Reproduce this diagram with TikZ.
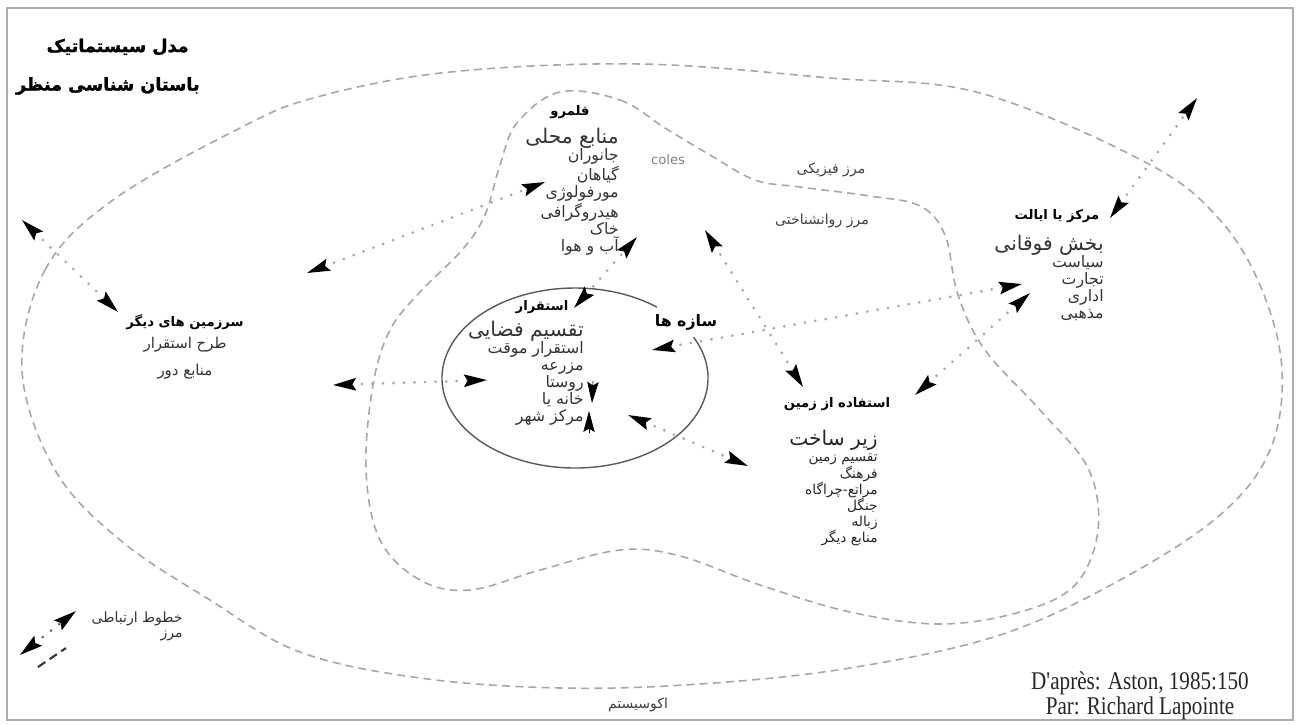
\documentclass[tikz,border=0pt]{standalone}
\usepackage{fontspec}
\setmainfont{Liberation Serif}
\newfontfamily\farsi[Script=Arabic]{DejaVu Sans}
\newfontfamily\farsiheavy[Script=Arabic, FakeBold=1.6]{DejaVu Sans Bold}
\newfontfamily\latinsans{DejaVu Sans}
\newfontfamily\creditfont[FakeStretch=0.83]{Liberation Serif}
\TeXXeTstate=1
\usetikzlibrary{arrows.meta}
\newcommand{\fa}[1]{\beginR #1\endR}
\newcommand{\bigitem}{\fontsize{11.5}{12}\selectfont}

\tikzset{
  boundary/.style={gray!70, line width=0.9pt, dash pattern=on 4.5pt off 3pt},
  settle/.style={gray!70!black, line width=0.8pt},
  link/.style={gray!70, line width=1.7pt, line cap=round, dash pattern=on 0pt off 6pt,
    {Stealth[length=13pt,width=7pt,inset=2pt,black]}-{Stealth[length=13pt,width=7pt,inset=2pt,black]}},
  headtip/.style={-{Stealth[length=12pt,width=6.5pt,inset=2pt,black]}},
  title/.style={font=\farsiheavy\fontsize{10}{12}\selectfont, anchor=east, inner sep=0pt},
  head/.style={font=\farsi\bfseries\fontsize{7.5}{9}\selectfont, text=black, inner sep=0pt},
  list/.style={font=\farsi\fontsize{9}{9.7}\selectfont, text=black!80, align=right, inner sep=0pt},
  smalllist/.style={font=\farsi\fontsize{7.8}{9.2}\selectfont, text=black!85, align=right, inner sep=0pt},
  label/.style={font=\farsi\fontsize{8}{9}\selectfont, text=black!75, inner sep=0pt}
}

\begin{document}
\begin{tikzpicture}[x=0.02cm, y=-0.02cm]
\useasboundingbox (0,0) rectangle (1297,724);
\draw[gray!65, line width=1.5pt] (7,8) rectangle (1293,720);

% boundaries
\draw[boundary] plot[smooth cycle, tension=0.6] coordinates {
  (22,370) (45,270) (113,200) (240,128) (317,97) (450,72) (640,64) (830,78)
  (980,93) (1147,163) (1220,220) (1262,290) (1282,370) (1270,450) (1220,515)
  (1120,580) (1000,635) (850,668) (700,684) (560,688) (420,678) (300,652)
  (210,600) (120,540) (55,470)};
\draw[boundary] plot[smooth cycle, tension=0.6] coordinates {
  (560,92) (620,100) (665,128) (710,155) (755,180) (800,187) (870,196)
  (920,206) (945,235) (958,295) (985,350) (1040,410) (1088,468) (1098,530)
  (1075,585) (1020,612) (940,624) (850,612) (760,585) (680,556) (620,550)
  (540,570) (470,590) (420,580) (380,540) (366,470) (373,385) (390,330)
  (420,292) (462,250) (485,215) (500,165) (517,123)};
\draw[settle] (575,378) ++(-27:133 and 90) arc[start angle=-27, end angle=308, x radius=133, y radius=90];

% titles
\node[title] (titleA) at (189,47) {\fa{مدل سیستماتیک}};
\node[title] (titleB) at (200,86) {\fa{باستان شناسی منظر}};

% territory
\node[head] (territory) at (570,112) {\fa{قلمرو}};
\node[list, anchor=north east] (territoryItems) at (619,128) {{\bigitem\fa{منابع محلی}}\\\fa{جانوران}\\\fa{گیاهان}\\\fa{مورفولوژی}\\\fa{هیدروگرافی}\\\fa{خاک}\\\fa{آب و هوا}};
\node[font=\latinsans\fontsize{7.5}{9}\selectfont, text=gray] (coles) at (668,160) {coles};

% settlement
\node[head] (settlement) at (542,307) {\fa{استقرار}};
\node[list, anchor=north east] (settlementItems) at (584,321) {{\bigitem\fa{تقسیم فضایی}}\\\fa{استقرار موقت}\\\fa{مزرعه}\\\fa{روستا}\\\fa{خانه یا}\\\fa{مرکز شهر}};
\node[head, font=\farsi\bfseries\fontsize{9}{10}\selectfont] (structures) at (686,322) {\fa{سازه ها}};

% other lands
\node[head] (otherLands) at (185,322) {\fa{سرزمین های دیگر}};
\node[list, align=center, font=\farsi\fontsize{8.5}{15.4}\selectfont, anchor=north] (otherItems) at (185,337) {\fa{طرح استقرار}\\\fa{منابع دور}};

% centre or province
\node[head] (centre) at (1057,216) {\fa{مرکز یا ایالت}};
\node[list, anchor=north east] (centreItems) at (1104,235) {{\bigitem\fa{بخش فوقانی}}\\\fa{سیاست}\\\fa{تجارت}\\\fa{اداری}\\\fa{مذهبی}};

% land use
\node[head] (landUse) at (837,404) {\fa{استفاده از زمین}};
\node[smalllist, anchor=north east] (landItems) at (878,430) {{\bigitem\fa{زیر ساخت}}\\\fa{تقسیم زمین}\\\fa{فرهنگ}\\\fa{مراتع-چراگاه}\\\fa{جنگل}\\\fa{زباله}\\\fa{منابع دیگر}};

% boundary names
\node[label] (physical) at (831,170) {\fa{مرز فیزیکی}};
\node[label] (psycho) at (822,221) {\fa{مرز روانشناختی}};
\node[label] (ecosystem) at (638,705) {\fa{اکوسیستم}};

% link ends
\coordinate (a1) at (22,220);   \coordinate (a2) at (118,312);
\coordinate (b1) at (307,273);  \coordinate (b2) at (545,182);
\coordinate (c1) at (574,308);  \coordinate (c2) at (637,237);
\coordinate (d1) at (705,230);  \coordinate (d2) at (803,387);
\coordinate (e1) at (652,350);  \coordinate (e2) at (1022,284);
\coordinate (f1) at (915,395);  \coordinate (f2) at (1030,293);
\coordinate (g1) at (1110,218); \coordinate (g2) at (1197,98);
\coordinate (h1) at (333,385);  \coordinate (h2) at (487,380);
\coordinate (j1) at (628,415);  \coordinate (j2) at (748,466);
\coordinate (v1) at (593,381);  \coordinate (v2) at (592,403);
\coordinate (w1) at (589,433);  \coordinate (w2) at (589,411);

% links
\foreach \s/\t in {a1/a2, b1/b2, c1/c2, d1/d2, e1/e2, f1/f2, g1/g2, h1/h2, j1/j2}
  \draw[link] (\s) -- (\t);
\draw[headtip] (v1) -- (v2);
\draw[headtip] (w1) -- (w2);

% legend
\coordinate (k1) at (20,655); \coordinate (k2) at (76,611);
\coordinate (m1) at (38,667); \coordinate (m2) at (66,648);
\draw[link, gray!80!black] (k1) -- (k2);
\draw[black!80, line width=1.2pt, dash pattern=on 5pt off 3pt] (m1) -- (m2);
\node[label, anchor=east, text=black!80] (legendLink) at (183,619) {\fa{خطوط ارتباطی}};
\node[label, anchor=east, text=black!80] (legendBound) at (183,636) {\fa{مرز}};

% credits
\node[font=\creditfont\fontsize{14.5}{11.8}\selectfont, align=center, text=black!85] (credit) at (1140,696) {D'après: Aston, 1985:150\\Par: Richard Lapointe};
\end{tikzpicture}
\end{document}
